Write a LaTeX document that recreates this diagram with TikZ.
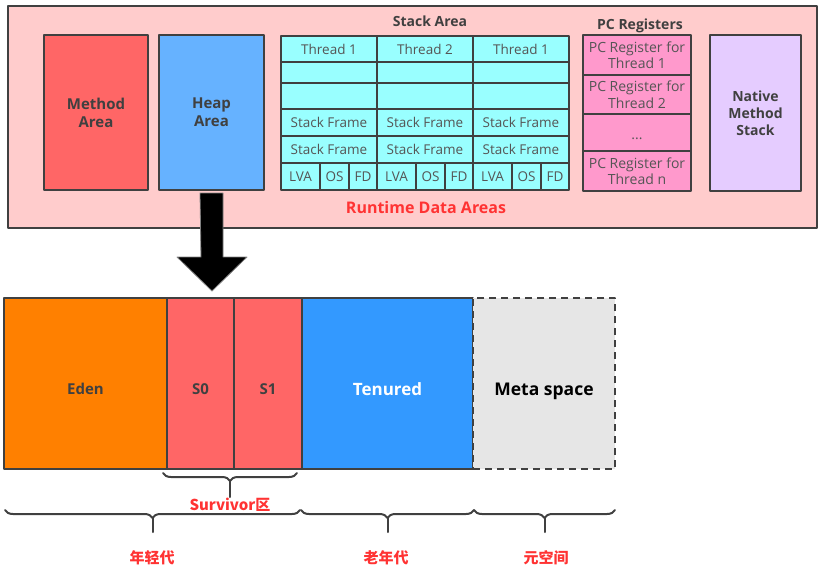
\documentclass[tikz,border=0pt]{standalone}
\usepackage{fontspec}
\setmainfont{Open Sans}
\newfontfamily\cjk{Noto Sans CJK SC}
\usetikzlibrary{positioning,calc,decorations.pathreplacing}

\definecolor{rdapink}{HTML}{FFCCCC}
\definecolor{methodred}{HTML}{FF6666}
\definecolor{heapblue}{HTML}{66B2FF}
\definecolor{stackcyan}{HTML}{99FFFF}
\definecolor{pcpink}{HTML}{FF99CC}
\definecolor{nativelilac}{HTML}{E5CCFF}
\definecolor{edenorange}{HTML}{FF8000}
\definecolor{tenuredblue}{HTML}{3399FF}
\definecolor{metagrey}{HTML}{E6E6E6}
\definecolor{edgegrey}{HTML}{404040}
\definecolor{textgrey}{HTML}{555555}
\definecolor{labelred}{HTML}{FF3333}

\begin{document}
\begin{tikzpicture}[x=1pt,y=-1pt,line cap=round,line join=round,
	box/.style={draw=edgegrey,line width=1.8pt,inner sep=0pt,outer sep=0pt,align=center},
	cell/.style={box,fill=stackcyan,minimum width=96pt,text=textgrey,font=\fontsize{13.5}{15}\selectfont},
	subcell/.style={cell,minimum height=27pt},
	pcreg/.style={box,fill=pcpink,minimum width=108pt,text=textgrey,font=\fontsize{14}{16.5}\selectfont},
	area/.style={box,text=edgegrey,font=\bfseries\fontsize{15}{18}\selectfont},
	gen/.style={box,minimum height=171pt,text=edgegrey,font=\bfseries\fontsize{15}{18}\selectfont},
	title/.style={text=edgegrey,font=\bfseries\fontsize{14}{16}\selectfont},
	genlabel/.style={text=labelred,font=\cjk\bfseries\fontsize{15}{17}\selectfont},
	brc/.style={draw=edgegrey,line width=2pt,decorate,decoration={brace,mirror,amplitude=8pt}},
	stem/.style={draw=edgegrey,line width=2pt}]
	
	\useasboundingbox (0,0) rectangle (833,579);
	
	% runtime data areas
	\node[box,fill=rdapink,minimum width=809pt,minimum height=222pt] (rda) at (412.5,117) {};
	\node[area,fill=methodred,minimum width=104pt,minimum height=155pt] (method) at (96,112.5) {Method\\Area};
	\node[area,fill=heapblue,minimum width=105pt,minimum height=155pt] (heap) at (211.5,112.5) {Heap\\Area};
	
	\node[title] (stacktitle) at (430,21) {Stack Area};
	\foreach \col/\cx/\thr in {1/329/{Thread 1},2/425/{Thread 2},3/521/{Thread 1}} {
		\node[cell,minimum height=26pt] (thr\col) at (\cx,49) {\thr};
		\node[cell,minimum height=21pt] (blank\col-a) at (\cx,72.5) {};
		\node[cell,minimum height=26pt] (blank\col-b) at (\cx,96) {};
		\node[cell,minimum height=27pt] (frame\col-a) at (\cx,122.5) {Stack Frame};
		\node[cell,minimum height=27pt] (frame\col-b) at (\cx,149.5) {Stack Frame};
		\node[subcell,minimum width=39pt,anchor=west] (lva\col) at (\cx-48,176.5) {LVA};
		\node[subcell,minimum width=29pt,right=0pt of lva\col] (os\col) {OS};
		\node[subcell,minimum width=28pt,right=0pt of os\col] (fd\col) {FD};
	}
	
	\node[title] (pctitle) at (640,26) {PC Registers};
	\node[pcreg,minimum height=40pt] (pc1) at (637,55) {PC Register for\\Thread 1};
	\node[pcreg,minimum height=39pt,below=0pt of pc1] (pc2) {PC Register for\\Thread 2};
	\node[pcreg,minimum height=37pt,below=0pt of pc2] (pcdots) {\raisebox{-7pt}[0pt][0pt]{...}};
	\node[pcreg,minimum height=40pt,below=0pt of pcdots] (pcn) {PC Register for\\Thread n};
	
	\node[area,fill=nativelilac,minimum width=91pt,minimum height=156pt,font=\bfseries\fontsize{14}{17}\selectfont] (native) at (755.5,113) {Native\\Method\\Stack};
	
	\node[text=labelred,font=\bfseries\fontsize{16}{18}\selectfont] (rdatitle) at (426,207) {Runtime Data Areas};
	
	% heap to generations
	\path[fill=black,draw=gray,line width=0.8pt] ($(heap.south)+(-11.5,3)$) -- ++(23,0) -- ++(0,64) -- ++(24,0)
		-- ++(-35,34) -- ++(-35,-34) -- ++(24,0) -- cycle;
	
	% generations
	\node[gen,fill=edenorange,minimum width=163pt] (eden) at (85.5,383.5) {\raisebox{-10.5pt}[0pt][0pt]{Eden}};
	\node[gen,fill=methodred,minimum width=67pt,right=0pt of eden] (s0) {\raisebox{-10.5pt}[0pt][0pt]{S0}};
	\node[gen,fill=methodred,minimum width=68pt,right=0pt of s0] (s1) {\raisebox{-10.5pt}[0pt][0pt]{S1}};
	\node[gen,fill=tenuredblue,minimum width=171pt,right=0pt of s1,text=white,font=\bfseries\fontsize{17}{20}\selectfont] (tenured) {\raisebox{-11.5pt}[0pt][0pt]{Tenured}};
	\node[gen,fill=metagrey,minimum width=142pt,right=0pt of tenured,dashed,dash pattern=on 7pt off 5pt,line cap=butt,text=black,font=\bfseries\fontsize{17.5}{20}\selectfont] (meta) {\raisebox{-11.5pt}[0pt][0pt]{Meta space}};
	
	% braces
	\coordinate (sv-l) at ($(s0.south west)+(-4,4)$);
	\coordinate (sv-r) at ($(s1.south east)+(-5,4)$);
	\coordinate (yg-l) at ($(eden.south west)+(1,41)$);
	\coordinate (yg-r) at ($(s1.south east)+(-2,41)$);
	\coordinate (old-l) at ($(tenured.south west)+(-1,41)$);
	\coordinate (old-r) at ($(tenured.south east)+(1,41)$);
	\coordinate (ms-l) at ($(meta.south west)+(1,41)$);
	\coordinate (ms-r) at ($(meta.south east)+(0,41)$);
	\foreach \a/\b/\len in {sv-l/sv-r/16,yg-l/yg-r/14,old-l/old-r/14,ms-l/ms-r/14} {
		\draw[brc] (\a) -- (\b);
		\draw[stem] ($(\a)!0.5!(\b)+(0,8)$) -- ++(0,\len);
	}
	
	\node[genlabel] (survivor) at (230,505) {Survivor区};
	\node[genlabel] (young) at (152,558) {年轻代};
	\node[genlabel] (old) at (386,558) {老年代};
	\node[genlabel] (metalabel) at (546,558) {元空间};
\end{tikzpicture}
\end{document}
